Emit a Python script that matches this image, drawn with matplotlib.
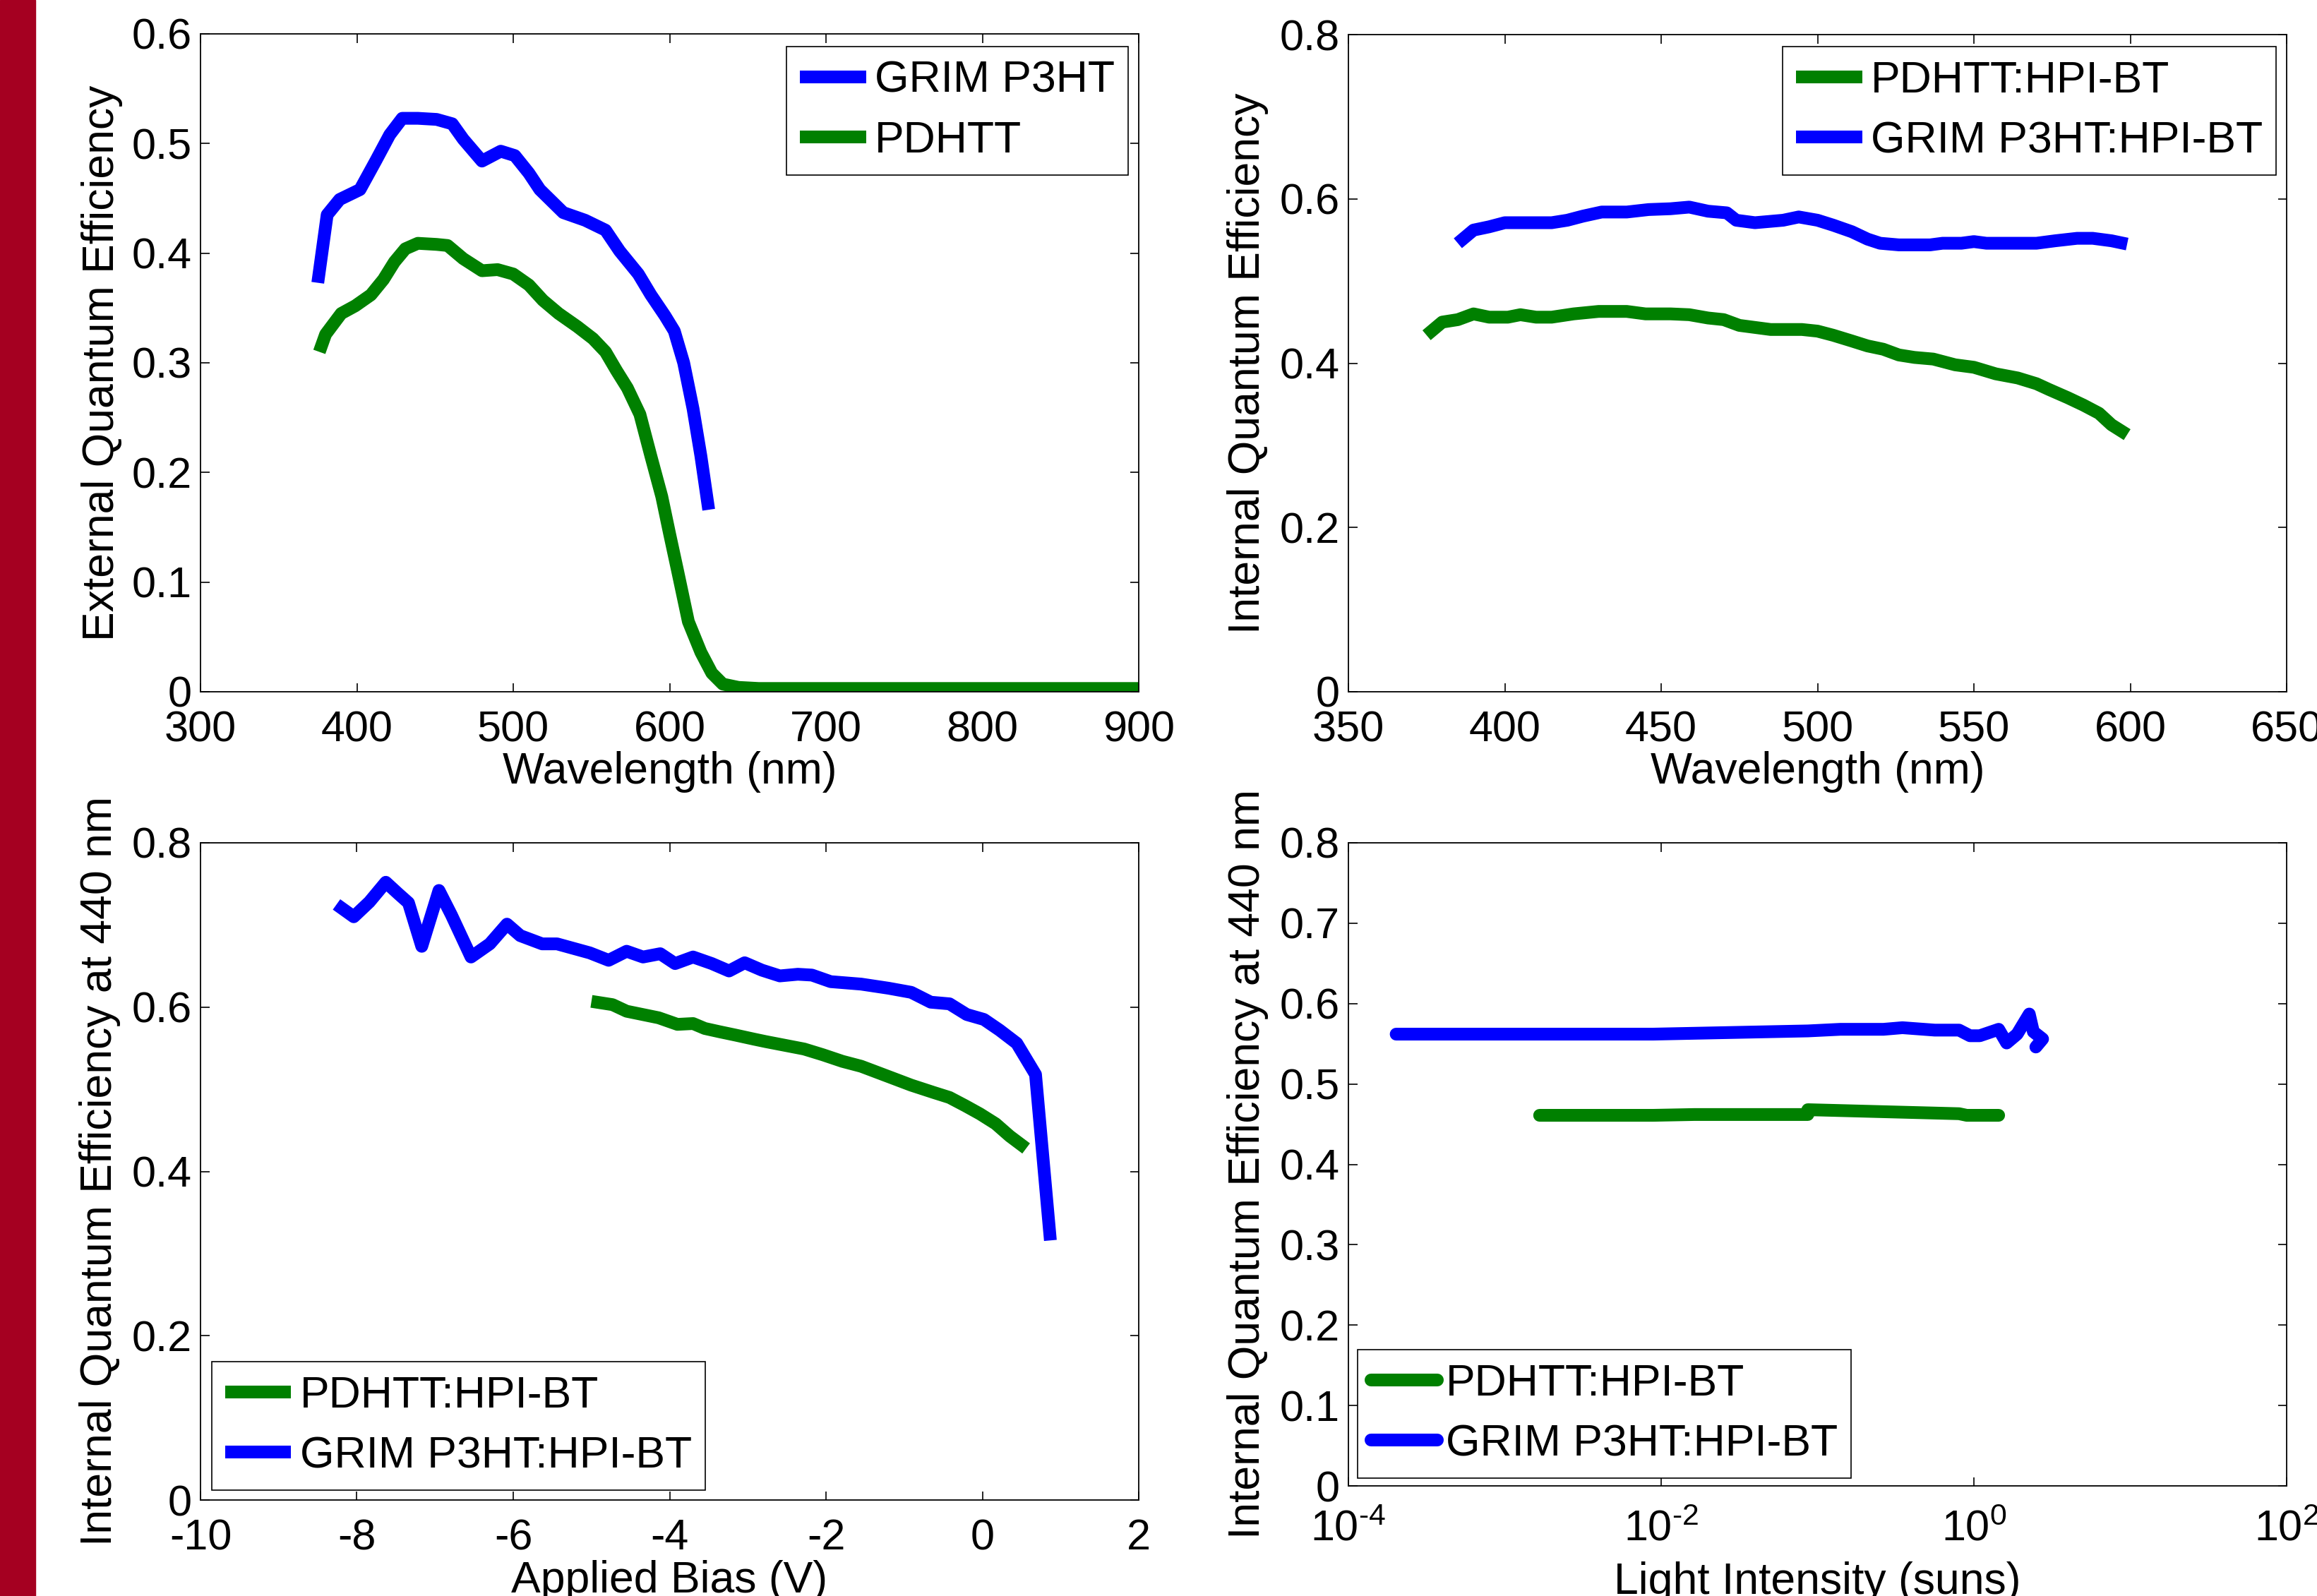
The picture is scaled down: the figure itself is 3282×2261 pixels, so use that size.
import numpy as np
import matplotlib.pyplot as plt
from matplotlib.ticker import FuncFormatter, NullLocator

plt.rcParams['font.family'] = ['Liberation Sans', 'DejaVu Sans']
plt.rcParams['mathtext.fontset'] = 'custom'
plt.rcParams['mathtext.rm'] = 'Liberation Sans'
plt.rcParams['mathtext.default'] = 'regular'
plt.rcParams['axes.unicode_minus'] = False

BLUE = '#0000ff'
GREEN = '#008000'

# EQE vs wavelength (top left)
eqe_wl_grim = [375, 381, 389, 402, 412, 421, 429, 439, 451, 461, 468, 480, 492, 501, 510,
               517, 532, 546, 559, 568, 580, 588, 597, 603, 609, 615, 620, 625]
eqe_grim = [0.373, 0.435, 0.449, 0.458, 0.484, 0.508, 0.523, 0.523, 0.522, 0.518, 0.504,
            0.484, 0.493, 0.489, 0.473, 0.458, 0.437, 0.430, 0.421, 0.402, 0.381, 0.362,
            0.343, 0.329, 0.300, 0.258, 0.215, 0.166]
eqe_wl_pdhtt = [376, 380, 390, 399, 409, 417, 424, 431, 439, 451, 458, 468, 480, 490, 500,
                510, 519, 529, 541, 551, 559, 566, 573, 581, 588, 595, 600, 605, 612, 620,
                627, 634, 644, 657, 700, 750, 800, 850, 900]
eqe_pdhtt = [0.310, 0.326, 0.345, 0.352, 0.362, 0.376, 0.392, 0.404, 0.409, 0.408, 0.407,
             0.395, 0.384, 0.385, 0.381, 0.371, 0.357, 0.345, 0.333, 0.322, 0.310, 0.293,
             0.277, 0.253, 0.215, 0.178, 0.144, 0.111, 0.064, 0.036, 0.017, 0.007, 0.004,
             0.003, 0.003, 0.003, 0.003, 0.003, 0.003]

# IQE vs wavelength (top right)
iqe_wl_pdhtt = [375, 380, 385, 390, 395, 401, 405, 410, 415, 422, 430, 439, 445, 453, 459,
                465, 470, 475, 479, 485, 495, 500, 505, 511, 516, 521, 526, 531, 537, 544,
                550, 557, 564, 570, 574, 580, 585, 590, 594, 599]
iqe_pdhtt = [0.434, 0.450, 0.453, 0.460, 0.456, 0.456, 0.459, 0.456, 0.456, 0.460, 0.463,
             0.463, 0.460, 0.460, 0.459, 0.455, 0.453, 0.446, 0.444, 0.441, 0.441, 0.439,
             0.434, 0.427, 0.421, 0.417, 0.410, 0.407, 0.405, 0.398, 0.395, 0.387, 0.382,
             0.375, 0.368, 0.358, 0.349, 0.339, 0.325, 0.313]
iqe_wl_grim = [385, 390, 395, 400, 409, 415, 420, 425, 431, 439, 446, 453, 459, 465, 471,
               474, 480, 489, 494, 500, 505, 511, 516, 520, 526, 536, 540, 546, 550, 554,
               570, 576, 583, 588, 594, 599]
iqe_grim = [0.546, 0.562, 0.566, 0.571, 0.571, 0.571, 0.574, 0.579, 0.584, 0.584, 0.587,
            0.588, 0.590, 0.585, 0.583, 0.574, 0.571, 0.574, 0.578, 0.574, 0.568, 0.560,
            0.551, 0.546, 0.544, 0.544, 0.546, 0.546, 0.548, 0.546, 0.546, 0.549, 0.552,
            0.552, 0.549, 0.545]

# IQE at 440 nm vs applied bias (bottom left)
bias_pdhtt = [-5.00, -4.73, -4.55, -4.14, -3.90, -3.70, -3.55, -3.36, -3.16, -2.92, -2.77,
              -2.28, -2.04, -1.79, -1.55, -1.16, -0.91, -0.62, -0.42, -0.22, -0.03, 0.17,
              0.35, 0.56]
iqe_bias_pdhtt = [0.607, 0.603, 0.595, 0.587, 0.579, 0.580, 0.574, 0.570, 0.566, 0.561,
                  0.558, 0.549, 0.542, 0.534, 0.528, 0.514, 0.505, 0.496, 0.490, 0.480,
                  0.470, 0.458, 0.443, 0.428]
bias_grim = [-8.26, -8.04, -7.84, -7.63, -7.47, -7.34, -7.17, -6.95, -6.79, -6.54, -6.30,
             -6.08, -5.91, -5.63, -5.44, -5.02, -4.78, -4.55, -4.34, -4.12, -3.93, -3.70,
             -3.46, -3.24, -3.04, -2.82, -2.59, -2.36, -2.18, -1.94, -1.55, -1.20, -0.91,
             -0.66, -0.42, -0.20, 0.02, 0.22, 0.44, 0.56, 0.68, 0.87]
iqe_bias_grim = [0.725, 0.710, 0.728, 0.752, 0.738, 0.727, 0.674, 0.742, 0.712, 0.661,
                 0.677, 0.701, 0.687, 0.677, 0.677, 0.666, 0.657, 0.668, 0.661, 0.665,
                 0.653, 0.661, 0.653, 0.644, 0.654, 0.645, 0.638, 0.640, 0.639, 0.631,
                 0.628, 0.623, 0.618, 0.606, 0.604, 0.591, 0.585, 0.572, 0.556, 0.537,
                 0.518, 0.316]

# IQE at 440 nm vs light intensity (bottom right)
suns_pdhtt = [1.67e-3, 8.9e-3, 0.0163, 0.0867, 0.0867, 0.804, 0.90, 1.44]
iqe_suns_pdhtt = [0.461, 0.461, 0.462, 0.462, 0.468, 0.463, 0.461, 0.461]
suns_grim = [2.02e-4, 8.9e-3, 0.0867, 0.140, 0.264, 0.349, 0.562, 0.804, 0.944, 1.09,
             1.44, 1.62, 1.89, 2.26, 2.40, 2.75, 2.49]
iqe_suns_grim = [0.562, 0.562, 0.566, 0.568, 0.568, 0.570, 0.567, 0.567, 0.560, 0.560,
                 0.568, 0.551, 0.562, 0.587, 0.565, 0.556, 0.546]
suns_ticks = [1e-4, 1e-2, 1e0, 1e2]
suns_ticklabels = [r'$10^{\text{-4}}$', r'$10^{\text{-2}}$', r'$10^{0}$', r'$10^{2}$']

W, H = 3282, 2261
fig = plt.figure(figsize=(W / 100, H / 100), dpi=100)
fig.add_artist(plt.Rectangle((0, 0), 50 / W, 1, transform=fig.transFigure,
                             color='#a50021', zorder=0))

fs = 44
lw = 13


def axes_px(x0, x1, y0, y1):
    # pixel box (left, right, top, bottom) -> figure axes
    return fig.add_axes([x0 / W, 1 - y1 / H, (x1 - x0) / W, (y1 - y0) / H])


def style(ax, ylab, xlab, xlab_y):
    ax.tick_params(direction='in', top=True, right=True, length=9, width=1.2,
                   labelsize=fs)
    ax.tick_params(axis='x', pad=19)
    ax.tick_params(axis='y', pad=9)
    for s in ax.spines.values():
        s.set_linewidth(1.3)
    ax.yaxis.set_major_formatter(FuncFormatter(lambda v, p: '%g' % round(v, 3)))
    ax.set_ylabel(ylab, fontsize=fs + 1)
    ax.set_xlabel(xlab, fontsize=fs + 1)
    ax.yaxis.set_label_coords(-0.085, 0.5)
    ax.xaxis.set_label_coords(0.5, xlab_y)


def legend(ax, loc, anchor):
    lg = ax.legend(loc=loc, bbox_to_anchor=anchor, fontsize=fs + 1, fancybox=False,
                   edgecolor='black', framealpha=1, borderaxespad=0, handlelength=1.5,
                   handletextpad=0.2, labelspacing=0.42, borderpad=0.3)
    lg.get_frame().set_linewidth(1.2)


# top left
ax1 = axes_px(284, 1613, 48, 980)
ax1.plot(eqe_wl_grim, eqe_grim, color=BLUE, lw=lw, label='GRIM P3HT',
         solid_capstyle='butt', solid_joinstyle='round')
ax1.plot(eqe_wl_pdhtt, eqe_pdhtt, color=GREEN, lw=lw, label='PDHTT',
         solid_capstyle='butt', solid_joinstyle='round')
ax1.set_xlim(300, 900)
ax1.set_ylim(0, 0.6)
ax1.set_xticks(np.arange(300, 901, 100))
ax1.set_yticks(np.arange(0, 0.61, 0.1))
style(ax1, 'External Quantum Efficiency', 'Wavelength (nm)', -0.09)
ax1.yaxis.set_label_coords(-0.083, 0.5)
legend(ax1, 'upper right', (0.9887, 0.9807))

# top right
ax2 = axes_px(1910, 3239, 49, 980)
ax2.plot(iqe_wl_pdhtt, iqe_pdhtt, color=GREEN, lw=lw, label='PDHTT:HPI-BT',
         solid_capstyle='butt', solid_joinstyle='round')
ax2.plot(iqe_wl_grim, iqe_grim, color=BLUE, lw=lw, label='GRIM P3HT:HPI-BT',
         solid_capstyle='butt', solid_joinstyle='round')
ax2.set_xlim(350, 650)
ax2.set_ylim(0, 0.8)
ax2.set_xticks(np.arange(350, 651, 50))
ax2.set_yticks(np.arange(0, 0.81, 0.2))
style(ax2, 'Internal Quantum Efficiency', 'Wavelength (nm)', -0.09)
legend(ax2, 'upper right', (0.9887, 0.9817))

# bottom left
ax3 = axes_px(284, 1613, 1194, 2125)
ax3.plot(bias_pdhtt, iqe_bias_pdhtt, color=GREEN, lw=lw, label='PDHTT:HPI-BT',
         solid_capstyle='butt', solid_joinstyle='round')
ax3.plot(bias_grim, iqe_bias_grim, color=BLUE, lw=lw, label='GRIM P3HT:HPI-BT',
         solid_capstyle='butt', solid_joinstyle='round')
ax3.set_xlim(-10, 2)
ax3.set_ylim(0, 0.8)
ax3.set_xticks(np.arange(-10, 3, 2))
ax3.set_yticks(np.arange(0, 0.81, 0.2))
style(ax3, 'Internal Quantum Efficiency at 440 nm', 'Applied Bias (V)', -0.091)
legend(ax3, 'lower left', (0.012, 0.015))

# bottom right
ax4 = axes_px(1910, 3239, 1194, 2105)
ax4.plot(suns_pdhtt, iqe_suns_pdhtt, color=GREEN, lw=lw, label='PDHTT:HPI-BT',
         solid_capstyle='round', solid_joinstyle='round')
ax4.plot(suns_grim, iqe_suns_grim, color=BLUE, lw=lw, label='GRIM P3HT:HPI-BT',
         solid_capstyle='round', solid_joinstyle='round')
ax4.set_xscale('log')
ax4.set_xlim(1e-4, 1e2)
ax4.set_ylim(0, 0.8)
ax4.set_xticks(suns_ticks)
ax4.set_xticklabels(suns_ticklabels)
ax4.xaxis.set_minor_locator(NullLocator())
ax4.set_yticks(np.arange(0, 0.81, 0.1))
style(ax4, 'Internal Quantum Efficiency at 440 nm', 'Light Intensity (suns)', -0.117)
ax4.tick_params(axis='x', pad=24)
legend(ax4, 'lower left', (0.0098, 0.012))

fig.savefig('out.png', dpi=100)
